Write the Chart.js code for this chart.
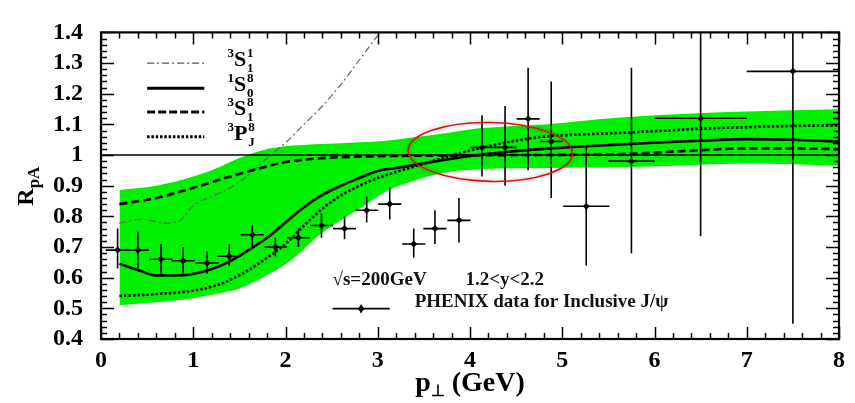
<!DOCTYPE html>
<html>
<head>
  <meta charset="utf-8">
  <title>R_pA vs p_T - J/psi</title>
  <style>
    html, body { margin: 0; padding: 0; background: #fff; }
  </style>
</head>
<body>
  <canvas id="canvas" width="855" height="403"></canvas>

  <script src="https://cdn.jsdelivr.net/npm/chart.js"></script>
  <script>
    // PHENIX inclusive J/psi data (pT, R_pA, error bar ends, half width in pT)
    const dataPt  = [0.18, 0.40, 0.65, 0.89, 1.15, 1.39, 1.64, 1.89, 2.14, 2.39, 2.64, 2.88, 3.13, 3.39, 3.62, 3.88, 4.13, 4.38, 4.63, 4.88, 5.26, 5.75, 6.5, 7.5];
    const dataR   = [0.69, 0.69, 0.66, 0.655, 0.648, 0.67, 0.74, 0.70, 0.73, 0.77, 0.76, 0.82, 0.84, 0.71, 0.76, 0.787, 1.025, 1.025, 1.118, 1.044, 0.833, 0.98, 1.12, 1.273];
    const dataHi  = [0.76, 0.75, 0.71, 0.70, 0.685, 0.71, 0.77, 0.73, 0.76, 0.81, 0.80, 0.865, 0.895, 0.76, 0.82, 0.86, 1.13, 1.16, 1.285, 1.24, 1.03, 1.285, 1.5, 1.5];
    const dataLo  = [0.63, 0.63, 0.61, 0.61, 0.614, 0.64, 0.70, 0.67, 0.70, 0.73, 0.725, 0.78, 0.79, 0.665, 0.71, 0.715, 0.93, 0.90, 0.95, 0.86, 0.64, 0.68, 0.735, 0.45];
    const dataXerr = [0.13, 0.12, 0.125, 0.125, 0.125, 0.125, 0.125, 0.125, 0.125, 0.125, 0.125, 0.125, 0.125, 0.125, 0.125, 0.125, 0.125, 0.125, 0.125, 0.125, 0.25, 0.25, 0.5, 0.5];

    // uncertainty band (green)
    const bandPt    = [0.2, 0.6, 1.0, 1.3, 1.5, 1.75, 2.05, 2.4, 2.8, 3.1, 3.4, 3.75, 4.1, 4.8, 5.6, 6.3, 7.0, 8.0];
    const bandUpper = [0.886, 0.90, 0.93, 0.963, 0.99, 1.016, 1.03, 1.036, 1.042, 1.047, 1.058, 1.072, 1.087, 1.10, 1.122, 1.134, 1.142, 1.149];
    const bandLower = [0.51, 0.52, 0.533, 0.55, 0.565, 0.60, 0.654, 0.747, 0.825, 0.883, 0.917, 0.944, 0.954, 0.958, 0.96, 0.966, 0.972, 0.965];

    // 1S0(8) - solid
    const s08Pt = [0.2, 0.4, 0.6, 0.8, 1.0, 1.2, 1.4, 1.6, 1.8, 2.0, 2.2, 2.4, 2.6, 2.8, 3.0, 3.2, 3.4, 3.6, 3.8, 4.0, 4.4, 4.8, 5.2, 5.6, 6.0, 6.5, 7.0, 7.5, 8.0];
    const s08R  = [0.645, 0.625, 0.607, 0.607, 0.612, 0.628, 0.654, 0.69, 0.73, 0.78, 0.83, 0.87, 0.90, 0.925, 0.948, 0.958, 0.968, 0.978, 0.988, 0.997, 1.01, 1.02, 1.028, 1.034, 1.04, 1.047, 1.052, 1.05, 1.044];

    // 3PJ(8) - dotted
    const p8Pt = [0.2, 0.6, 1.0, 1.3, 1.6, 1.8, 2.0, 2.2, 2.4, 2.6, 2.8, 3.0, 3.2, 3.4, 3.75, 4.1, 4.5, 4.8, 5.2, 5.6, 6.0, 6.5, 7.0, 7.5, 8.0];
    const p8R  = [0.54, 0.547, 0.558, 0.58, 0.625, 0.665, 0.71, 0.77, 0.825, 0.868, 0.90, 0.925, 0.945, 0.963, 0.994, 1.022, 1.047, 1.06, 1.067, 1.072, 1.078, 1.086, 1.091, 1.095, 1.097];

    // 3S1(8) - dashed
    const s18Pt = [0.2, 0.6, 1.0, 1.4, 1.7, 2.0, 2.4, 2.8, 3.5, 4.5, 5.5, 6.0, 6.5, 7.0, 7.5, 8.0];
    const s18R  = [0.84, 0.86, 0.893, 0.93, 0.955, 0.977, 0.99, 0.995, 0.998, 1.0, 1.002, 1.008, 1.016, 1.022, 1.022, 1.019];

    // 3S1(1) - dash-dot, grey
    const s11Pt = [0.2, 0.45, 0.7, 0.85, 1.0, 1.2, 1.4, 1.6, 1.8, 2.0, 2.2, 2.4, 2.6, 2.8, 3.0, 3.2];
    const s11R  = [0.778, 0.79, 0.778, 0.785, 0.835, 0.865, 0.893, 0.935, 0.99, 1.04, 1.10, 1.16, 1.23, 1.31, 1.39, 1.47];

    const refPt = [0, 8];
    const refR  = [1, 1];

    const xTicks = [0, 1, 2, 3, 4, 5, 6, 7, 8];
    const yTicks = [0.4, 0.5, 0.6, 0.7, 0.8, 0.9, 1, 1.1, 1.2, 1.3, 1.4];
    const yTickLabels = ['0.4', '0.5', '0.6', '0.7', '0.8', '0.9', '1', '1.1', '1.2', '1.3', '1.4'];

    const SERIF = '"Liberation Serif", "Times New Roman", serif';

    function pts(xs, ys) {
      return xs.map((v, i) => ({ x: v, y: ys[i] }));
    }

    function lineSet(xs, ys, color, width, dash, order) {
      return {
        data: pts(xs, ys),
        showLine: true,
        borderColor: color,
        borderWidth: width,
        borderDash: dash,
        pointRadius: 0,
        cubicInterpolationMode: 'monotone',
        fill: false,
        order: order
      };
    }

    // sub/superscript labels for the legend
    function drawState(ctx, x, y, pre, letter, sup, sub) {
      ctx.textAlign = 'left';
      ctx.textBaseline = 'alphabetic';
      ctx.font = 'bold 13px ' + SERIF;
      ctx.fillText(pre, x, y - 9);
      let w = ctx.measureText(pre).width;
      ctx.font = 'bold 22px ' + SERIF;
      ctx.fillText(letter, x + w, y);
      w += ctx.measureText(letter).width + 1;
      ctx.font = 'bold 13px ' + SERIF;
      ctx.fillText(sup, x + w, y - 9);
      ctx.fillText(sub, x + w, y + 6);
    }

    const decor = {
      id: 'decor',
      afterDatasetsDraw(chart) {
        const { ctx, chartArea: a, scales: { x, y } } = chart;
        ctx.save();

        // error bars
        ctx.beginPath();
        ctx.rect(a.left, a.top, a.right - a.left, a.bottom - a.top);
        ctx.clip();
        ctx.strokeStyle = '#000';
        ctx.lineWidth = 1.6;
        ctx.setLineDash([]);
        for (let i = 0; i < dataPt.length; i++) {
          const px = x.getPixelForValue(dataPt[i]);
          const py = y.getPixelForValue(dataR[i]);
          ctx.beginPath();
          ctx.moveTo(x.getPixelForValue(dataPt[i] - dataXerr[i]), py);
          ctx.lineTo(x.getPixelForValue(dataPt[i] + dataXerr[i]), py);
          ctx.moveTo(px, y.getPixelForValue(dataLo[i]));
          ctx.lineTo(px, y.getPixelForValue(dataHi[i]));
          ctx.stroke();
        }
        ctx.restore();

        ctx.save();
        // red ellipse
        const cx = x.getPixelForValue(4.22), cy = y.getPixelForValue(1.01);
        const rx = x.getPixelForValue(4.22 + 0.89) - cx;
        const ry = cy - y.getPixelForValue(1.01 + 0.096);
        ctx.shadowColor = 'rgba(0,0,0,0.35)';
        ctx.shadowBlur = 4;
        ctx.strokeStyle = '#e01010';
        ctx.lineWidth = 1.6;
        ctx.beginPath();
        ctx.ellipse(cx, cy, rx, ry, 0.02, 0, Math.PI * 2);
        ctx.stroke();
        ctx.restore();

        ctx.save();
        // frame with inward ticks on all sides
        ctx.strokeStyle = '#000';
        ctx.lineWidth = 1.5;
        ctx.beginPath();
        for (let k = 0; k <= 40; k++) {
          const px = Math.round(x.getPixelForValue(k * 0.2)) + 0.5;
          const len = k % 5 === 0 ? 12 : 6;
          ctx.moveTo(px, a.bottom); ctx.lineTo(px, a.bottom - len);
          ctx.moveTo(px, a.top); ctx.lineTo(px, a.top + len);
        }
        for (let k = 0; k <= 50; k++) {
          const py = Math.round(y.getPixelForValue(0.4 + k * 0.02)) + 0.5;
          const len = k % 5 === 0 ? 13 : 6;
          ctx.moveTo(a.left, py); ctx.lineTo(a.left + len, py);
          ctx.moveTo(a.right, py); ctx.lineTo(a.right - len, py);
        }
        ctx.stroke();
        ctx.lineWidth = 2.2;
        ctx.strokeRect(a.left, a.top, a.right - a.left, a.bottom - a.top);

        // legend of the model curves
        const lx0 = x.getPixelForValue(0.5), lx1 = x.getPixelForValue(1.12);
        const legend = [
          { r: 1.30, color: '#555', width: 1.2, dash: [7, 3, 2, 3], pre: '3', l: 'S', sup: '1', sub: '1' },
          { r: 1.218, color: '#000', width: 3, dash: [], pre: '1', l: 'S', sup: '8', sub: '0' },
          { r: 1.14, color: '#000', width: 3, dash: [8, 3], pre: '3', l: 'S', sup: '8', sub: '1' },
          { r: 1.06, color: '#000', width: 3, dash: [2.5, 1.8], pre: '3', l: 'P', sup: '8', sub: 'J' }
        ];
        const tx = x.getPixelForValue(1.37);
        legend.forEach(e => {
          const ly = y.getPixelForValue(e.r);
          ctx.strokeStyle = e.color;
          ctx.lineWidth = e.width;
          ctx.setLineDash(e.dash);
          ctx.beginPath();
          ctx.moveTo(lx0, ly);
          ctx.lineTo(lx1, ly);
          ctx.stroke();
          ctx.fillStyle = '#000';
          drawState(ctx, tx, ly + 3, e.pre, e.l, e.sup, e.sub);
        });
        ctx.setLineDash([]);

        // data legend + annotations
        ctx.fillStyle = '#111';
        ctx.textAlign = 'left';
        ctx.textBaseline = 'alphabetic';
        ctx.font = 'bold 19px ' + SERIF;
        ctx.fillText('\u221As=200GeV', x.getPixelForValue(2.51), y.getPixelForValue(0.576));
        ctx.fillText('1.2<y<2.2', x.getPixelForValue(3.95), y.getPixelForValue(0.576));
        ctx.fillText('PHENIX data for Inclusive J/\u03C8', x.getPixelForValue(3.4), y.getPixelForValue(0.503));
        const my = y.getPixelForValue(0.499);
        const mx = x.getPixelForValue(2.82);
        ctx.strokeStyle = '#000';
        ctx.lineWidth = 1.6;
        ctx.beginPath();
        ctx.moveTo(x.getPixelForValue(2.51), my);
        ctx.lineTo(x.getPixelForValue(3.13), my);
        ctx.moveTo(mx, my - 4);
        ctx.lineTo(mx, my + 4);
        ctx.stroke();
        ctx.fillStyle = '#000';
        ctx.beginPath();
        ctx.moveTo(mx, my - 4); ctx.lineTo(mx + 3.5, my); ctx.lineTo(mx, my + 4); ctx.lineTo(mx - 3.5, my);
        ctx.closePath();
        ctx.fill();

        // axis titles
        ctx.fillStyle = '#000';
        const xt = 'p';
        const rest = ' (GeV)';
        ctx.font = 'bold 28px ' + SERIF;
        const wP = ctx.measureText(xt).width;
        const wR = ctx.measureText(rest).width;
        ctx.font = 'bold 16px ' + SERIF;
        const wS = ctx.measureText('\u22A5').width;
        let sx = (a.left + a.right) / 2 - (wP + wS + wR) / 2;
        const by = 391;
        ctx.font = 'bold 28px ' + SERIF;
        ctx.fillText(xt, sx, by);
        ctx.font = 'bold 16px ' + SERIF;
        ctx.fillText('\u22A5', sx + wP, by + 5);
        ctx.font = 'bold 28px ' + SERIF;
        ctx.fillText(rest, sx + wP + wS, by);

        ctx.translate(33, (a.top + a.bottom) / 2 + 20);
        ctx.rotate(-Math.PI / 2);
        ctx.font = 'bold 24px ' + SERIF;
        ctx.fillText('R', 0, 0);
        const wRR = ctx.measureText('R').width;
        ctx.font = 'bold 17px ' + SERIF;
        ctx.fillText('pA', wRR, 6);
        ctx.restore();
      }
    };

    const ctx = document.getElementById('canvas').getContext('2d');

    const chart = new Chart(ctx, {
      type: 'scatter',
      data: {
        datasets: [
          // band upper, filled down to the lower edge
          {
            data: pts(bandPt, bandUpper),
            showLine: true,
            borderWidth: 0,
            borderColor: 'rgba(0,0,0,0)',
            backgroundColor: '#00f000',
            pointRadius: 0,
            cubicInterpolationMode: 'monotone',
            fill: '+1',
            order: 20
          },
          {
            data: pts(bandPt, bandLower),
            showLine: true,
            borderWidth: 0,
            borderColor: 'rgba(0,0,0,0)',
            pointRadius: 0,
            cubicInterpolationMode: 'monotone',
            fill: false,
            order: 21
          },
          lineSet(refPt, refR, '#000', 1.5, [], 12),
          lineSet(s11Pt, s11R, '#666', 1.2, [7, 3, 2, 3], 11),
          lineSet(s18Pt, s18R, '#000', 2.6, [8, 4], 10),
          lineSet(p8Pt, p8R, '#000', 2.6, [2.5, 2], 9),
          lineSet(s08Pt, s08R, '#000', 2.6, [], 8),
          {
            data: pts(dataPt, dataR),
            pointStyle: 'rectRot',
            pointRadius: 3.5,
            backgroundColor: '#000',
            borderColor: '#000',
            borderWidth: 0,
            showLine: false,
            order: 1
          }
        ]
      },
      options: {
        responsive: false,
        animation: false,
        layout: { padding: { left: 0, right: 16, top: 16, bottom: 0 } },
        plugins: {
          legend: { display: false },
          tooltip: { enabled: false }
        },
        scales: {
          x: {
            type: 'linear',
            min: 0,
            max: 8,
            afterBuildTicks: s => { s.ticks = xTicks.map(v => ({ value: v })); },
            afterFit: s => { s.height = 64; },
            grid: { display: false, drawTicks: false },
            border: { display: false },
            ticks: {
              color: '#000',
              padding: 7,
              maxRotation: 0,
              autoSkip: false,
              font: { family: SERIF, size: 24, weight: 'bold' }
            }
          },
          y: {
            type: 'linear',
            min: 0.4,
            max: 1.4,
            afterBuildTicks: s => { s.ticks = yTicks.map(v => ({ value: v })); },
            afterFit: s => { s.width = 101; },
            grid: { display: false, drawTicks: false },
            border: { display: false },
            ticks: {
              color: '#000',
              padding: 18,
              autoSkip: false,
              callback: (v) => {
                const i = yTicks.findIndex(t => Math.abs(t - v) < 1e-6);
                return i >= 0 ? yTickLabels[i] : '';
              },
              font: { family: SERIF, size: 24, weight: 'bold' }
            }
          }
        }
      },
      plugins: [decor]
    });
  </script>
</body>
</html>
